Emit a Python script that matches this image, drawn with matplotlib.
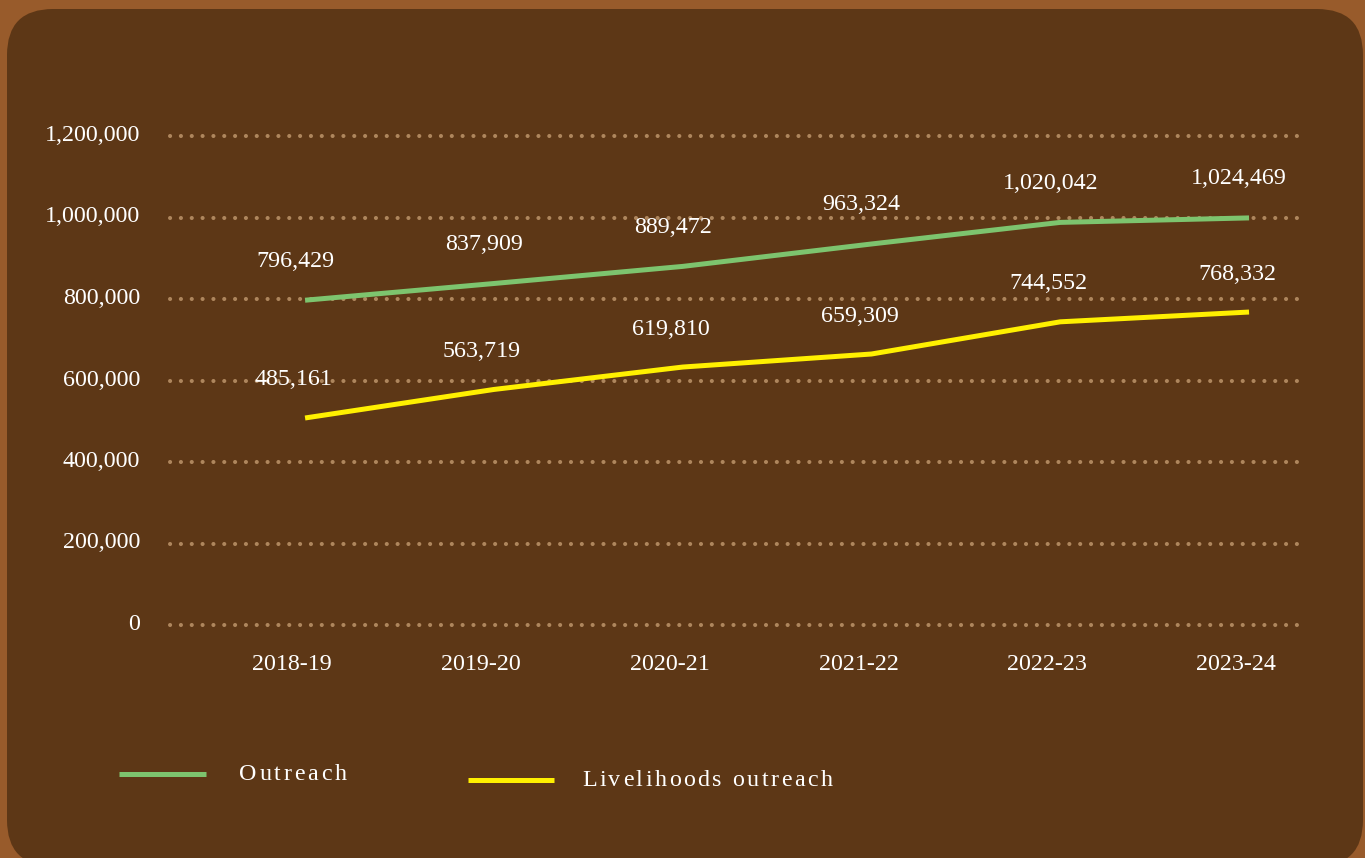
import matplotlib
matplotlib.use("Agg")
import matplotlib.pyplot as plt
from matplotlib.patches import FancyBboxPatch
from matplotlib.lines import Line2D
from matplotlib.ticker import FuncFormatter
import matplotlib.transforms as mtransforms

plt.rcParams['font.family'] = ['Liberation Serif', 'DejaVu Serif']
plt.rcParams['lines.scale_dashes'] = False

# ---------------- data ----------------
years = ["2018-19", "2019-20", "2020-21", "2021-22", "2022-23", "2023-24"]
# values printed as labels
outreach_labels = [796429, 837909, 889472, 963324, 1020042, 1024469]
livelihoods_labels = [485161, 563719, 619810, 659309, 744552, 768332]
# line heights as drawn in the picture
outreach_line = [797000, 838000, 880000, 935000, 988000, 999000]
livelihoods_line = [508000, 578000, 633000, 665000, 744000, 768000]
y_ticks = [0, 200000, 400000, 600000, 800000, 1000000, 1200000]
series_names = ["Outreach", "Livelihoods outreach"]

# ---------------- style ----------------
W, H = 1365, 858
OUTER = '#985B2B'
INNER = '#5D3716'
GREEN = '#7DC46E'
YELLOW = '#FFF000'
GRID = '#AE865D'
TXT = '#FFFFFF'
FS = 17.3

fig = plt.figure(figsize=(W / 100, H / 100), dpi=100)
fig.patch.set_facecolor(OUTER)
panel = FancyBboxPatch((0.07, -0.08), 13.56, 8.57,
                       boxstyle="round,pad=0,rounding_size=0.46",
                       transform=fig.dpi_scale_trans, facecolor=INNER,
                       edgecolor='none', zorder=-5)
fig.patches.append(panel)

left, right = 168 / W, 1307 / W
bottom, top = (H - 633.15) / H, (H - 127.85) / H
ax = fig.add_axes([left, bottom, right - left, top - bottom])
ax.set_facecolor('none')
ax.set_zorder(1)
for sp in ax.spines.values():
    sp.set_visible(False)

x = list(range(len(years)))
ax.set_xlim(-0.726, 5.307)
ax.set_ylim(-20000, 1220000)

# dotted gridlines (pattern in points: 10.8 px spacing)
for v in y_ticks:
    ax.axhline(v, color=GRID, linewidth=3.0, linestyle=(6.3, (0.001, 7.8)),
               dash_capstyle='round', zorder=1)

ax.plot(x, outreach_line, color=GREEN, linewidth=3.6, zorder=3,
        solid_joinstyle='round', solid_capstyle='butt')
ax.plot(x, livelihoods_line, color=YELLOW, linewidth=3.6, zorder=3,
        solid_joinstyle='round', solid_capstyle='butt')

for xi, yv, lab in zip(x, outreach_line, outreach_labels):
    ax.annotate(f"{lab:,}", (xi, yv), xytext=(-10, 39), textcoords='offset pixels',
                ha='center', va='center', color=TXT, fontsize=FS)
for xi, yv, lab in zip(x, livelihoods_line, livelihoods_labels):
    ax.annotate(f"{lab:,}", (xi, yv), xytext=(-12, 38), textcoords='offset pixels',
                ha='center', va='center', color=TXT, fontsize=FS)

ax.set_yticks(y_ticks)
ax.yaxis.set_major_formatter(FuncFormatter(lambda v, p: f"{int(v):,}"))
ax.set_xticks(x)
ax.set_xticklabels(years)
ax.tick_params(axis='both', length=0, colors=TXT, labelsize=FS)
ax.tick_params(axis='y', pad=20)
ax.tick_params(axis='x', pad=15)
shift = mtransforms.ScaledTranslation(-0.13, 0, fig.dpi_scale_trans)
for lbl in ax.get_xticklabels():
    lbl.set_transform(lbl.get_transform() + shift)
yshift = mtransforms.ScaledTranslation(0, 0.03, fig.dpi_scale_trans)
for lbl in ax.get_yticklabels():
    lbl.set_transform(lbl.get_transform() + yshift)

# ---------------- legend (manual, letter-spaced) ----------------
renderer = fig.canvas.get_renderer()


def spaced_text(x_px, y_px, s, spacing, **kw):
    bar = fig.text(0, 0, '|', **kw)
    wbar = bar.get_window_extent(renderer).width
    bar.remove()
    for k, ch in enumerate(s):
        if k == 0:
            off = 0.0
        else:
            t = fig.text(0, 0, s[:k] + '|', **kw)
            off = t.get_window_extent(renderer).width - wbar
            t.remove()
        if ch != ' ':
            fig.text((x_px + off + k * spacing) / W, 1 - y_px / H, ch,
                     ha='left', va='center', **kw)


fig.lines.append(Line2D([119 / W, 206 / W], [1 - 774 / H, 1 - 774 / H],
                        transform=fig.transFigure, color=GREEN, linewidth=3.6,
                        solid_capstyle='butt'))
fig.lines.append(Line2D([468 / W, 554 / W], [1 - 780 / H, 1 - 780 / H],
                        transform=fig.transFigure, color=YELLOW, linewidth=3.6,
                        solid_capstyle='butt'))
spaced_text(239, 774, series_names[0], 2.8, color=TXT, fontsize=FS)
spaced_text(582, 780, series_names[1], 2.5, color=TXT, fontsize=FS)

fig.savefig("out.png", dpi=100, facecolor=fig.get_facecolor())
